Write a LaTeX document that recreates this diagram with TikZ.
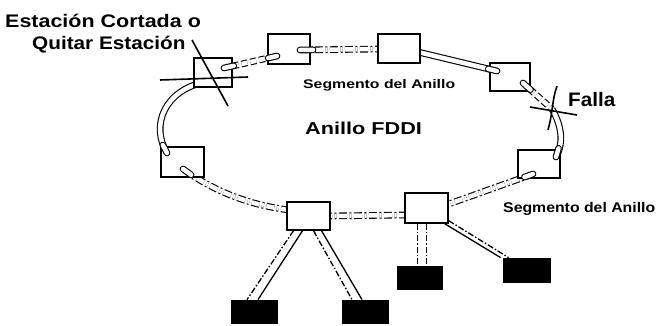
\documentclass[tikz,border=0pt]{standalone}
\usepackage{fontspec}
\setmainfont{Liberation Sans}
\usepackage{graphicx}
\usetikzlibrary{calc}
\newcommand{\lbltext}[3]{{\fontsize{#1}{#1}\selectfont\bfseries\scalebox{#2}[1]{#3}}}
\begin{document}
\begin{tikzpicture}[x=1pt,y=-1pt,
  stn/.style={draw, fill=white, line width=1.4pt, inner sep=0pt},
  host/.style={fill=black, draw=black, line width=0.8pt, inner sep=0pt},
  ring/.style={draw=black, line width=1.1pt, double=white, double distance=4.5pt},
  rdash/.style={ring, dash pattern=on 8pt off 2.5pt on 2pt off 2.5pt},
  rdashed/.style={ring, dash pattern=on 6pt off 3pt},
  loopend/.style={ring, line cap=round},
  lbl/.style={inner sep=0pt, anchor=base west},
  cut/.style={line width=1.6pt},
  drop/.style={line width=1.3pt},
  dropdash/.style={line width=1.3pt, dash pattern=on 6pt off 2pt on 1.5pt off 2pt}
]
\useasboundingbox (0,0) rectangle (659,326);

% ports of the ring
\coordinate (pA) at (224,68);
\coordinate (pB1) at (277,56);
\coordinate (pB2) at (300,50);
\coordinate (pC1) at (380,49);
\coordinate (pC2) at (418,52);
\coordinate (pD1) at (497,71);
\coordinate (pD2) at (523,83);
\coordinate (X) at (552,109);
\coordinate (pE1) at (556,157);
\coordinate (pE2) at (533,174);
\coordinate (pH1) at (446,205);
\coordinate (pH2) at (407,215);
\coordinate (pG1) at (328,216);
\coordinate (pG2) at (289,210);
\coordinate (pF1) at (183,169);
\coordinate (pF2) at (167,153);
\coordinate (pA2) at (205,82);

% ring segments
\draw[rdashed] (pA) -- (pB1);
\draw[rdash] (pB2) -- (pC1);
\draw[ring] (pC2) -- (pD1);
\draw[rdashed] (pD2) -- (X);
\draw[ring] (X) .. controls (563,128) and (563,145) .. (pE1);
\draw[rdash] (pE2) -- (pH1);
\draw[rdash] (pH2) -- (pG1);
\draw[rdash] (pG2) .. controls (250,205) and (215,192) .. (pF1);
\draw[ring] (pF2) .. controls (150,125) and (165,90) .. (pA2);

% stations
\node[stn, minimum width=38pt, minimum height=29pt] (A) at (213,72.5) {};
\node[stn, minimum width=42pt, minimum height=30pt] (B) at (289,49) {};
\node[stn, minimum width=42pt, minimum height=29pt] (C) at (399,48.5) {};
\node[stn, minimum width=40pt, minimum height=28pt] (D) at (510,77) {};
\node[stn, minimum width=42pt, minimum height=28pt] (E) at (539,164) {};
\node[stn, minimum width=43pt, minimum height=30pt] (F) at (182.5,162) {};
\node[stn, minimum width=43pt, minimum height=28pt] (G) at (308.5,216) {};
\node[stn, minimum width=43pt, minimum height=30pt] (H) at (426.5,208) {};

% loop ends inside stations
\draw[loopend] (pA) -- ($(pA)!10pt!(pB1)$);
\draw[loopend] (pB1) -- ($(pB1)!9pt!(pA)$);
\draw[loopend] (pB2) -- ($(pB2)!13pt!(pC1)$);
\draw[loopend] (pD1) -- ($(pD1)!9pt!(pC2)$);
\draw[loopend] (pD2) -- ($(pD2)!10pt!(X)$);
\draw[loopend] (pE1) -- ($(pE1)!9pt!(561,140)$);
\draw[loopend] (pE2) -- ($(pE2)!9pt!(pH1)$);
\draw[loopend] (pF1) -- ($(pF1)!10pt!(215,192)$);
\draw[loopend] (pF2) -- ($(pF2)!9pt!(155,130)$);

% workstations
\node[host, minimum width=46pt, minimum height=23pt] (K1) at (254,311.5) {};
\node[host, minimum width=46pt, minimum height=23pt] (K2) at (365,311.5) {};
\node[host, minimum width=45pt, minimum height=23pt] (K3) at (419.5,277.5) {};
\node[host, minimum width=47pt, minimum height=24pt] (K4) at (526.5,270) {};

% drops
\draw[dropdash] ([xshift=-15pt]G.south) -- ([xshift=-7pt]K1.north);
\draw[drop] ([xshift=-6pt]G.south) -- ([xshift=4pt]K1.north);
\draw[dropdash] ([xshift=5pt]G.south) -- ([xshift=-13pt]K2.north);
\draw[drop] ([xshift=13pt]G.south) -- ([xshift=-3pt]K2.north);
\draw[dropdash] ([xshift=-9pt]H.south) -- ([xshift=-2pt]K3.north);
\draw[dropdash] ([xshift=0pt]H.south) -- ([xshift=7pt]K3.north);
\draw[drop] ([xshift=-4pt]H.south east) -- ([xshift=-2pt]K4.north west);
\draw[dropdash] ([yshift=3pt]H.south east) -- ([xshift=6pt]K4.north west);

% cut station and fault marks
\coordinate (c1) at (160,80);
\coordinate (c2) at (248,77);
\coordinate (c3) at (192,40);
\coordinate (c4) at (228,106);
\draw[cut] (c1) -- (c2);
\draw[cut] (c3) -- (c4);
\coordinate (f1) at (530,107);
\coordinate (f2) at (577,115);
\coordinate (f3) at (557,86);
\coordinate (f4) at (548,130);
\draw[cut] (f1) -- (f2);
\draw[cut] (f3) .. controls (552,100) and (553,112) .. (f4);

% labels
\node[lbl] (t1) at (5,28) {\lbltext{18.2}{1.18}{Estación Cortada o}};
\node[lbl] (t2) at (32,50) {\lbltext{18.2}{1.14}{Quitar Estación}};
\node[lbl] (t3) at (303,89) {\lbltext{12.5}{1.265}{Segmento del Anillo}};
\node[lbl] (t4) at (305,135) {\lbltext{17.2}{1.26}{Anillo FDDI}};
\node[lbl] (t5) at (568,107) {\lbltext{19.5}{1.06}{Falla}};
\node[lbl] (t6) at (503,212) {\lbltext{14}{1.13}{Segmento del Anillo}};
\end{tikzpicture}
\end{document}
